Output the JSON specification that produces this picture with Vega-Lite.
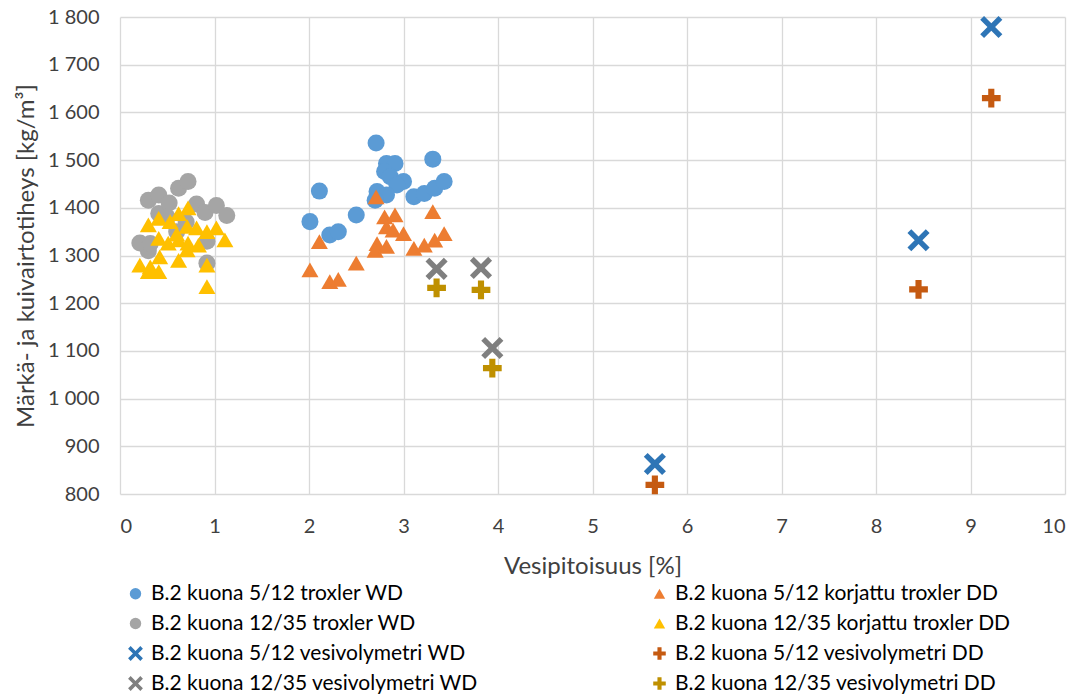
{
  "$schema": "https://vega.github.io/schema/vega-lite/v6.json",
  "width": 945,
  "height": 477,
  "autosize": {"type": "none"},
  "padding": {"left": 120, "top": 17, "right": 21, "bottom": 201},
  "background": "white",
  "config": {
    "font": "Lato",
    "view": {"stroke": null},
    "axis": {"labelFont": "Lato", "titleFont": "Lato", "labelColor": "#404040", "titleColor": "#404040", "gridColor": "#D9D9D9", "gridWidth": 1.3, "domain": false, "ticks": false, "tickSize": 0}
  },
  "data": {
    "values": [
      {"s": "B.2 kuona 5/12 troxler WD", "x": 2.71, "y": 1536},
      {"s": "B.2 kuona 5/12 troxler WD", "x": 3.31, "y": 1502},
      {"s": "B.2 kuona 5/12 troxler WD", "x": 2.11, "y": 1435},
      {"s": "B.2 kuona 5/12 troxler WD", "x": 2.01, "y": 1371},
      {"s": "B.2 kuona 5/12 troxler WD", "x": 2.22, "y": 1343},
      {"s": "B.2 kuona 5/12 troxler WD", "x": 2.31, "y": 1350},
      {"s": "B.2 kuona 5/12 troxler WD", "x": 2.50, "y": 1385},
      {"s": "B.2 kuona 5/12 troxler WD", "x": 2.82, "y": 1493},
      {"s": "B.2 kuona 5/12 troxler WD", "x": 2.91, "y": 1493},
      {"s": "B.2 kuona 5/12 troxler WD", "x": 2.80, "y": 1476},
      {"s": "B.2 kuona 5/12 troxler WD", "x": 2.86, "y": 1465},
      {"s": "B.2 kuona 5/12 troxler WD", "x": 3.00, "y": 1455},
      {"s": "B.2 kuona 5/12 troxler WD", "x": 2.93, "y": 1448},
      {"s": "B.2 kuona 5/12 troxler WD", "x": 2.72, "y": 1434},
      {"s": "B.2 kuona 5/12 troxler WD", "x": 2.82, "y": 1427},
      {"s": "B.2 kuona 5/12 troxler WD", "x": 3.11, "y": 1423},
      {"s": "B.2 kuona 5/12 troxler WD", "x": 3.22, "y": 1430},
      {"s": "B.2 kuona 5/12 troxler WD", "x": 3.33, "y": 1441},
      {"s": "B.2 kuona 5/12 troxler WD", "x": 3.43, "y": 1455},
      {"s": "B.2 kuona 5/12 troxler WD", "x": 2.70, "y": 1416},
      {"s": "B.2 kuona 12/35 troxler WD", "x": 0.21, "y": 1326},
      {"s": "B.2 kuona 12/35 troxler WD", "x": 0.30, "y": 1416},
      {"s": "B.2 kuona 12/35 troxler WD", "x": 0.41, "y": 1427},
      {"s": "B.2 kuona 12/35 troxler WD", "x": 0.41, "y": 1388},
      {"s": "B.2 kuona 12/35 troxler WD", "x": 0.52, "y": 1410},
      {"s": "B.2 kuona 12/35 troxler WD", "x": 0.62, "y": 1441},
      {"s": "B.2 kuona 12/35 troxler WD", "x": 0.72, "y": 1455},
      {"s": "B.2 kuona 12/35 troxler WD", "x": 0.81, "y": 1408},
      {"s": "B.2 kuona 12/35 troxler WD", "x": 0.90, "y": 1390},
      {"s": "B.2 kuona 12/35 troxler WD", "x": 1.02, "y": 1405},
      {"s": "B.2 kuona 12/35 troxler WD", "x": 1.13, "y": 1384},
      {"s": "B.2 kuona 12/35 troxler WD", "x": 0.30, "y": 1310},
      {"s": "B.2 kuona 12/35 troxler WD", "x": 0.92, "y": 1284},
      {"s": "B.2 kuona 12/35 troxler WD", "x": 0.92, "y": 1330},
      {"s": "B.2 kuona 12/35 troxler WD", "x": 0.60, "y": 1350},
      {"s": "B.2 kuona 12/35 troxler WD", "x": 0.50, "y": 1380},
      {"s": "B.2 kuona 12/35 troxler WD", "x": 0.70, "y": 1370},
      {"s": "B.2 kuona 12/35 troxler WD", "x": 0.32, "y": 1325},
      {"s": "B.2 kuona 5/12 korjattu troxler DD", "x": 2.71, "y": 1423},
      {"s": "B.2 kuona 5/12 korjattu troxler DD", "x": 2.11, "y": 1329},
      {"s": "B.2 kuona 5/12 korjattu troxler DD", "x": 2.01, "y": 1270},
      {"s": "B.2 kuona 5/12 korjattu troxler DD", "x": 2.22, "y": 1245},
      {"s": "B.2 kuona 5/12 korjattu troxler DD", "x": 2.31, "y": 1250},
      {"s": "B.2 kuona 5/12 korjattu troxler DD", "x": 2.50, "y": 1284},
      {"s": "B.2 kuona 5/12 korjattu troxler DD", "x": 2.80, "y": 1381},
      {"s": "B.2 kuona 5/12 korjattu troxler DD", "x": 2.91, "y": 1385},
      {"s": "B.2 kuona 5/12 korjattu troxler DD", "x": 2.82, "y": 1360},
      {"s": "B.2 kuona 5/12 korjattu troxler DD", "x": 2.89, "y": 1353},
      {"s": "B.2 kuona 5/12 korjattu troxler DD", "x": 3.00, "y": 1346},
      {"s": "B.2 kuona 5/12 korjattu troxler DD", "x": 2.72, "y": 1325},
      {"s": "B.2 kuona 5/12 korjattu troxler DD", "x": 2.70, "y": 1311},
      {"s": "B.2 kuona 5/12 korjattu troxler DD", "x": 2.82, "y": 1319},
      {"s": "B.2 kuona 5/12 korjattu troxler DD", "x": 3.11, "y": 1315},
      {"s": "B.2 kuona 5/12 korjattu troxler DD", "x": 3.22, "y": 1322},
      {"s": "B.2 kuona 5/12 korjattu troxler DD", "x": 3.33, "y": 1332},
      {"s": "B.2 kuona 5/12 korjattu troxler DD", "x": 3.43, "y": 1346},
      {"s": "B.2 kuona 5/12 korjattu troxler DD", "x": 3.31, "y": 1392},
      {"s": "B.2 kuona 12/35 korjattu troxler DD", "x": 0.72, "y": 1400},
      {"s": "B.2 kuona 12/35 korjattu troxler DD", "x": 0.62, "y": 1388},
      {"s": "B.2 kuona 12/35 korjattu troxler DD", "x": 0.41, "y": 1378},
      {"s": "B.2 kuona 12/35 korjattu troxler DD", "x": 0.30, "y": 1364},
      {"s": "B.2 kuona 12/35 korjattu troxler DD", "x": 0.53, "y": 1371},
      {"s": "B.2 kuona 12/35 korjattu troxler DD", "x": 0.71, "y": 1361},
      {"s": "B.2 kuona 12/35 korjattu troxler DD", "x": 0.81, "y": 1358},
      {"s": "B.2 kuona 12/35 korjattu troxler DD", "x": 1.02, "y": 1358},
      {"s": "B.2 kuona 12/35 korjattu troxler DD", "x": 0.92, "y": 1350},
      {"s": "B.2 kuona 12/35 korjattu troxler DD", "x": 1.11, "y": 1333},
      {"s": "B.2 kuona 12/35 korjattu troxler DD", "x": 0.41, "y": 1336},
      {"s": "B.2 kuona 12/35 korjattu troxler DD", "x": 0.51, "y": 1326},
      {"s": "B.2 kuona 12/35 korjattu troxler DD", "x": 0.62, "y": 1333},
      {"s": "B.2 kuona 12/35 korjattu troxler DD", "x": 0.72, "y": 1326},
      {"s": "B.2 kuona 12/35 korjattu troxler DD", "x": 0.83, "y": 1322},
      {"s": "B.2 kuona 12/35 korjattu troxler DD", "x": 0.42, "y": 1297},
      {"s": "B.2 kuona 12/35 korjattu troxler DD", "x": 0.62, "y": 1290},
      {"s": "B.2 kuona 12/35 korjattu troxler DD", "x": 0.21, "y": 1280},
      {"s": "B.2 kuona 12/35 korjattu troxler DD", "x": 0.32, "y": 1276},
      {"s": "B.2 kuona 12/35 korjattu troxler DD", "x": 0.41, "y": 1266},
      {"s": "B.2 kuona 12/35 korjattu troxler DD", "x": 0.30, "y": 1266},
      {"s": "B.2 kuona 12/35 korjattu troxler DD", "x": 0.92, "y": 1280},
      {"s": "B.2 kuona 12/35 korjattu troxler DD", "x": 0.92, "y": 1235},
      {"s": "B.2 kuona 12/35 korjattu troxler DD", "x": 0.71, "y": 1312},
      {"s": "B.2 kuona 12/35 korjattu troxler DD", "x": 0.60, "y": 1345},
      {"s": "B.2 kuona 5/12 vesivolymetri WD", "x": 5.66, "y": 863},
      {"s": "B.2 kuona 5/12 vesivolymetri WD", "x": 8.45, "y": 1332},
      {"s": "B.2 kuona 5/12 vesivolymetri WD", "x": 9.22, "y": 1779},
      {"s": "B.2 kuona 12/35 vesivolymetri WD", "x": 3.35, "y": 1272},
      {"s": "B.2 kuona 12/35 vesivolymetri WD", "x": 3.82, "y": 1274},
      {"s": "B.2 kuona 12/35 vesivolymetri WD", "x": 3.94, "y": 1106},
      {"s": "B.2 kuona 5/12 vesivolymetri DD", "x": 5.66, "y": 819},
      {"s": "B.2 kuona 5/12 vesivolymetri DD", "x": 8.45, "y": 1229},
      {"s": "B.2 kuona 5/12 vesivolymetri DD", "x": 9.22, "y": 1630},
      {"s": "B.2 kuona 12/35 vesivolymetri DD", "x": 3.35, "y": 1232},
      {"s": "B.2 kuona 12/35 vesivolymetri DD", "x": 3.82, "y": 1228},
      {"s": "B.2 kuona 12/35 vesivolymetri DD", "x": 3.94, "y": 1064}
    ]
  },
  "mark": {"type": "point", "filled": true, "opacity": 1, "size": 290},
  "encoding": {
    "x": {"field": "x", "type": "quantitative", "scale": {"domain": [0, 10], "nice": false}, "axis": {"values": [0,1,2,3,4,5,6,7,8,9,10], "title": "Vesipitoisuus [%]", "labelFontSize": 20, "titleFontSize": 24, "titleFontWeight": "normal", "labelPadding": 22, "titlePadding": 18}},
    "y": {"field": "y", "type": "quantitative", "scale": {"domain": [800, 1800], "nice": false, "zero": false}, "axis": {"values": [800,900,1000,1100,1200,1300,1400,1500,1600,1700,1800], "labelExpr": "replace(format(datum.value, ','), ',', ' ')", "title": "Märkä- ja kuivairtotiheys [kg/m³]", "labelFontSize": 20, "titleFontSize": 24, "titleFontWeight": "normal", "labelPadding": 21, "titlePadding": 9}},
    "color": {
      "field": "s", "type": "nominal",
      "scale": {
        "domain": ["B.2 kuona 5/12 troxler WD", "B.2 kuona 12/35 troxler WD", "B.2 kuona 5/12 vesivolymetri WD", "B.2 kuona 12/35 vesivolymetri WD", "B.2 kuona 5/12 korjattu troxler DD", "B.2 kuona 12/35 korjattu troxler DD", "B.2 kuona 5/12 vesivolymetri DD", "B.2 kuona 12/35 vesivolymetri DD"],
        "range": ["#5B9BD5", "#A5A5A5", "#2E75B6", "#7F7F7F", "#ED7D31", "#FFC000", "#C55A11", "#BF9000"]
      },
      "legend": {"orient": "none", "legendX": 5, "legendY": 566, "columns": 2, "columnPadding": 162, "rowPadding": 8, "title": null, "labelFontSize": 21, "labelColor": "#000000", "labelFont": "Lato", "symbolSize": 130, "labelLimit": 600, "labelOffset": 5, "gridAlign": "all"}
    },
    "shape": {
      "field": "s", "type": "nominal",
      "scale": {
        "domain": ["B.2 kuona 5/12 troxler WD", "B.2 kuona 12/35 troxler WD", "B.2 kuona 5/12 vesivolymetri WD", "B.2 kuona 12/35 vesivolymetri WD", "B.2 kuona 5/12 korjattu troxler DD", "B.2 kuona 12/35 korjattu troxler DD", "B.2 kuona 5/12 vesivolymetri DD", "B.2 kuona 12/35 vesivolymetri DD"],
        "range": ["circle", "circle", "M-0.85,-1.3L0,-0.45L0.85,-1.3L1.3,-0.85L0.45,0L1.3,0.85L0.85,1.3L0,0.45L-0.85,1.3L-1.3,0.85L-0.45,0L-1.3,-0.85Z", "M-0.85,-1.3L0,-0.45L0.85,-1.3L1.3,-0.85L0.45,0L1.3,0.85L0.85,1.3L0,0.45L-0.85,1.3L-1.3,0.85L-0.45,0L-1.3,-0.85Z", "triangle-up", "triangle-up", "M-0.36,-1.1L0.36,-1.1L0.36,-0.36L1.1,-0.36L1.1,0.36L0.36,0.36L0.36,1.1L-0.36,1.1L-0.36,0.36L-1.1,0.36L-1.1,-0.36L-0.36,-0.36Z", "M-0.36,-1.1L0.36,-1.1L0.36,-0.36L1.1,-0.36L1.1,0.36L0.36,0.36L0.36,1.1L-0.36,1.1L-0.36,0.36L-1.1,0.36L-1.1,-0.36L-0.36,-0.36Z"]
      }
    }
  }
}
